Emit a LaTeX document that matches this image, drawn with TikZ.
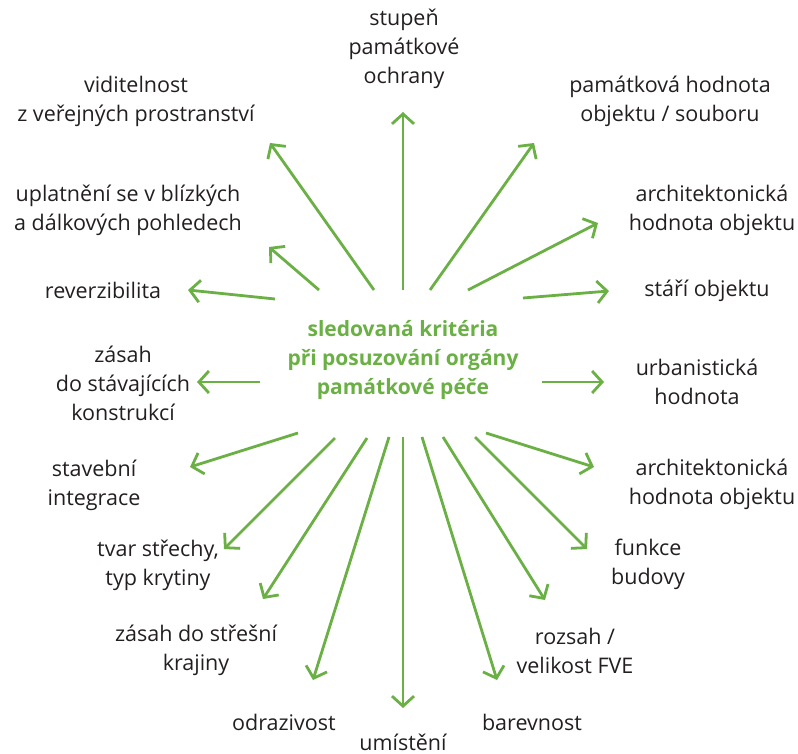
\documentclass[tikz,border=0pt]{standalone}
\usepackage{fontspec}
\setmainfont{Open Sans}
\usetikzlibrary{arrows.meta}
\definecolor{arrgreen}{RGB}{106,176,69}
\definecolor{txtdark}{RGB}{35,31,32}
\begin{document}
\begin{tikzpicture}[x=1pt,y=-1pt,
  lbl/.style={align=center,text=txtdark,inner sep=0pt,font=\fontsize{21.5}{29}\selectfont},
  ctr/.style={align=center,text=arrgreen,inner sep=0pt,font=\fontsize{21}{29}\selectfont\bfseries},
  arr/.style={draw=arrgreen,line width=2.8pt,-{Straight Barb[length=10pt,width=22pt,line width=2.8pt]}}]
\useasboundingbox (0,0) rectangle (798,753);
% labels
\node[ctr] (c) at (403,360) {sledovaná kritéria\\při posuzování orgány\\památkové péče};
\node[lbl] (l1) at (404,49) {stupeň\\památkové\\ochrany};
\node[lbl] (l2) at (670,101) {památková hodnota\\objektu / souboru};
\node[lbl] (l3) at (712,210) {architektonická\\hodnota objektu};
\node[lbl] (l4) at (707,291) {stáří objektu};
\node[lbl] (l5) at (697,382) {urbanistická\\hodnota};
\node[lbl] (l6) at (712,484) {architektonická\\hodnota objektu};
\node[lbl] (l7) at (648,564) {funkce\\budovy};
\node[lbl] (l8) at (575,651) {rozsah /\\velikost FVE};
\node[lbl] (l9) at (532,722) {barevnost};
\node[lbl] (l10) at (403,742) {umístění};
\node[lbl] (l11) at (284,722) {odrazivost};
\node[lbl] (l12) at (196,650) {zásah do střešní\\krajiny};
\node[lbl] (l13) at (158,565) {tvar střechy,\\typ krytiny};
\node[lbl] (l14) at (94,485) {stavební\\integrace};
\node[lbl] (l15) at (123,383) {zásah\\do stávajících\\konstrukcí};
\node[lbl] (l16) at (103,290) {reverzibilita};
\node[lbl] (l17) at (128,210) {uplatnění se v blízkých\\a dálkových pohledech};
\node[lbl] (l18) at (136,101) {viditelnost\\z veřejných prostranství};
% arrow coordinates
\coordinate (s1) at (403,290); \coordinate (e1) at (403,112);
\coordinate (s2) at (430,290); \coordinate (e2) at (534,143);
\coordinate (s3) at (468,290); \coordinate (e3) at (598,223);
\coordinate (s4) at (523,298); \coordinate (e4) at (609,291);
\coordinate (s5) at (542,382); \coordinate (e5) at (604,382);
\coordinate (s6) at (486,433); \coordinate (e6) at (594,467);
\coordinate (s7) at (475,437); \coordinate (e7) at (587,549);
\coordinate (s8) at (443,437); \coordinate (e8) at (545,600);
\coordinate (s9) at (422,437); \coordinate (e9) at (497,680);
\coordinate (s10) at (403,437); \coordinate (e10) at (403,708);
\coordinate (s11) at (389,437); \coordinate (e11) at (313,680);
\coordinate (s12) at (367,438); \coordinate (e12) at (263,599);
\coordinate (s13) at (335,438); \coordinate (e13) at (224,549);
\coordinate (s14) at (298,433); \coordinate (e14) at (190,467);
\coordinate (s15) at (260,382); \coordinate (e15) at (197,382);
\coordinate (s16) at (275,299); \coordinate (e16) at (188,290);
\coordinate (s17) at (319,290); \coordinate (e17) at (269,247);
\coordinate (s18) at (374,290); \coordinate (e18) at (270,143);
\foreach \i in {1,...,18} {\draw[arr] (s\i) -- (e\i);}
\end{tikzpicture}
\end{document}
